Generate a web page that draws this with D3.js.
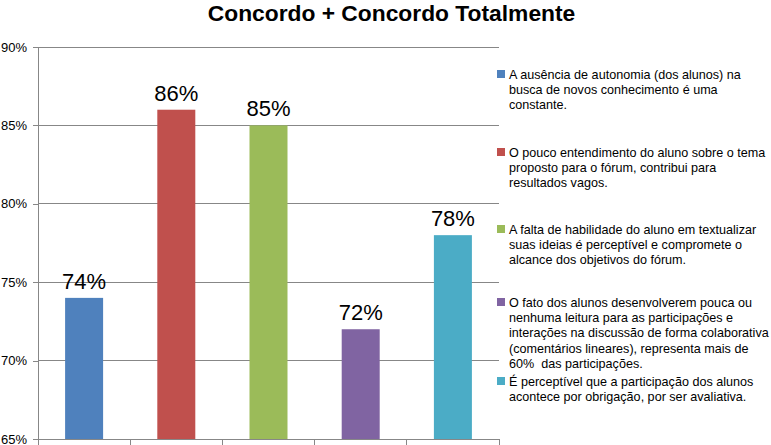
<!DOCTYPE html>
<html>
<head>
<meta charset="utf-8">
<script src="https://cdn.jsdelivr.net/npm/d3@7"></script>
<style>
  html, body { margin: 0; padding: 0; background: #fff; }
  svg { display: block; font-family: "Liberation Sans", Arial, sans-serif; }
  svg text { white-space: pre; }
</style>
</head>
<body>
<svg id="chart" width="771" height="445"></svg>
<script>
const title = "Concordo + Concordo Totalmente";
const categories = ["c1", "c2", "c3", "c4", "c5"];
const values = [74, 86, 85, 72, 78];
const colors = ["#4F81BD", "#C0504D", "#9BBB59", "#8064A2", "#4BACC6"];
const yTicks = [65, 70, 75, 80, 85, 90];
const legendLines = [
  ["A ausência de autonomia (dos alunos) na", "busca de novos conhecimento é uma", "constante."],
  ["O pouco entendimento do aluno sobre o tema", "proposto para o fórum, contribui para", "resultados vagos."],
  ["A falta de habilidade do aluno em textualizar", "suas ideias é perceptível e compromete o", "alcance dos objetivos do fórum."],
  ["O fato dos alunos desenvolverem pouca ou", "nenhuma leitura para as participações e", "interações na discussão de forma colaborativa", "(comentários lineares), representa mais de", "60%  das participações."],
  ["É perceptível que a participação dos alunos", "acontece por obrigação, por ser avaliativa."]
];

(function () {
const FONT = "'Liberation Sans', Arial, sans-serif";
const svg = d3.select("#chart");
const pLeft = 38, pRight = 499, pTop = 47, pBottom = 439;

const x = d3.scaleBand().domain(categories).range([pLeft, pRight]).paddingInner(0).paddingOuter(0);
const y = d3.scaleLinear().domain([65, 90]).range([pBottom, pTop]);
const barW = 38;

// title
svg.append("text").attr("x", 391.5).attr("y", 20.5)
  .attr("text-anchor", "middle").attr("font-weight", "bold").attr("font-size", 22.8)
  .attr("font-family", FONT).attr("fill", "#000").text(title);

// gridlines
svg.append("g").selectAll("line").data(yTicks.filter(t => t > 65)).join("line")
  .attr("x1", pLeft).attr("x2", pRight)
  .attr("y1", d => y(d)).attr("y2", d => y(d))
  .attr("stroke", "#878787").attr("stroke-width", 1).attr("shape-rendering", "crispEdges");

// y axis
const yAxis = d3.axisLeft(y).tickValues(yTicks).tickSize(5).tickPadding(6).tickFormat(d => d + "%");
const gy = svg.append("g").attr("transform", `translate(${pLeft},0)`).call(yAxis);
gy.select(".domain").attr("stroke", "#878787").attr("shape-rendering", "crispEdges");
gy.selectAll(".tick line").attr("stroke", "#878787").attr("shape-rendering", "crispEdges");
gy.selectAll(".tick text").attr("font-size", 13).attr("fill", "#000")
  .attr("font-family", FONT).attr("x", -11);

// x axis
const boundaries = d3.range(categories.length + 1).map(i => pLeft + i * x.bandwidth());
const gx = svg.append("g");
gx.append("line").attr("x1", pLeft).attr("x2", pRight).attr("y1", pBottom).attr("y2", pBottom)
  .attr("stroke", "#878787").attr("shape-rendering", "crispEdges");
gx.selectAll("line.tk").data(boundaries).join("line").attr("class", "tk")
  .attr("x1", d => d).attr("x2", d => d).attr("y1", pBottom).attr("y2", pBottom + 6)
  .attr("stroke", "#878787").attr("shape-rendering", "crispEdges");

// bars
svg.append("g").selectAll("rect").data(values).join("rect")
  .attr("x", (d, i) => x(categories[i]) + x.bandwidth() / 2 - barW / 2)
  .attr("width", barW)
  .attr("y", d => y(d))
  .attr("height", d => pBottom - y(d))
  .attr("fill", (d, i) => colors[i]);

// labels
svg.append("g").selectAll("text").data(values).join("text")
  .attr("x", (d, i) => x(categories[i]) + x.bandwidth() / 2)
  .attr("y", d => y(d) - 9)
  .attr("text-anchor", "middle").attr("font-size", 22).attr("font-family", FONT).attr("fill", "#000")
  .text(d => d + "%");

// legend
const lineH = 15.4;
const entryY = [74, 152, 229, 302, 381];
const lg = svg.append("g");
legendLines.forEach((lines, i) => {
  const g = lg.append("g");
  g.append("rect").attr("x", 497).attr("y", entryY[i] - 4).attr("width", 8).attr("height", 8)
    .attr("fill", colors[i]);
  g.selectAll("text").data(lines).join("text")
    .attr("x", 509).attr("y", (d, j) => entryY[i] + j * lineH + 4.5)
    .attr("font-size", 12.6).attr("font-family", FONT).attr("fill", "#000").text(d => d);
});
})();
</script>
</body>
</html>
